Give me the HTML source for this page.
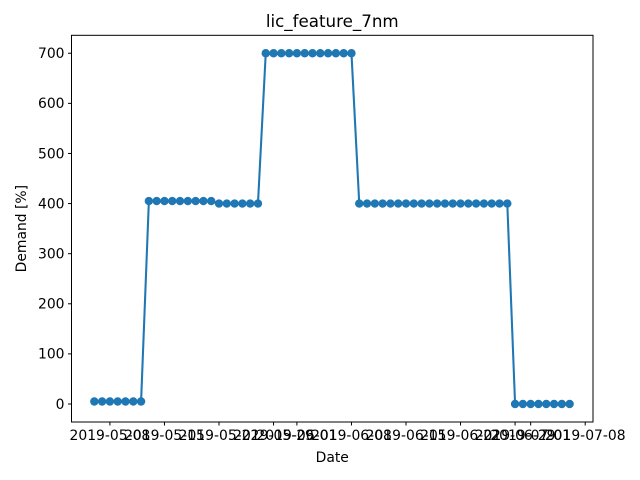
<!DOCTYPE html>
<html><head><meta charset="utf-8"><style>
html,body{margin:0;padding:0;background:#fff;}
svg{display:block;font-family:"DejaVu Sans","Liberation Sans",sans-serif;}
</style></head><body>
<svg id="chart" width="640" height="480" viewBox="0 0 640 480"></svg>
<script>
const dates = ["2019-05-06","2019-05-07","2019-05-08","2019-05-09","2019-05-10","2019-05-11","2019-05-12",
"2019-05-13","2019-05-14","2019-05-15","2019-05-16","2019-05-17","2019-05-18","2019-05-19","2019-05-20","2019-05-21",
"2019-05-22","2019-05-23","2019-05-24","2019-05-25","2019-05-26","2019-05-27",
"2019-05-28","2019-05-29","2019-05-30","2019-05-31","2019-06-01","2019-06-02","2019-06-03","2019-06-04","2019-06-05","2019-06-06","2019-06-07","2019-06-08",
"2019-06-09","2019-06-10","2019-06-11","2019-06-12","2019-06-13","2019-06-14","2019-06-15","2019-06-16","2019-06-17","2019-06-18",
"2019-06-19","2019-06-20","2019-06-21","2019-06-22","2019-06-23","2019-06-24","2019-06-25","2019-06-26","2019-06-27","2019-06-28",
"2019-06-29","2019-06-30","2019-07-01","2019-07-02","2019-07-03","2019-07-04","2019-07-05","2019-07-06"];
const demand = [5,5,5,5,5,5,5,
405,405,405,405,405,405,405,405,405,
400,400,400,400,400,400,
700,700,700,700,700,700,700,700,700,700,700,700,
400,400,400,400,400,400,400,400,400,400,
400,400,400,400,400,400,400,400,400,400,
0,0,0,0,0,0,0,0];
const xTicks = ["2019-05-08","2019-05-15","2019-05-22","2019-05-29","2019-06-01","2019-06-08","2019-06-15","2019-06-22","2019-06-29","2019-07-01","2019-07-08"];
const yTicks = [0,100,200,300,400,500,600,700];

const svg = document.getElementById('chart');
const NS = "http://www.w3.org/2000/svg";
const L=71.5, R=593, T=35.3, B=422;
const base = Date.UTC(2019,4,8);
function day(s){const p=s.split('-');return (Date.UTC(+p[0],+p[1]-1,+p[2])-base)/86400000;}
const xMin=-4.93, xMax=62.0, yMin=-35.9, yMax=735.8;
function X(s){return L+(day(s)-xMin)/(xMax-xMin)*(R-L);}
function Y(v){return B-(v-yMin)/(yMax-yMin)*(B-T);}
function el(tag, attrs, parent){const e=document.createElementNS(NS,tag);for(const k in attrs)e.setAttribute(k,attrs[k]);(parent||svg).appendChild(e);return e;}

const title = el('text',{x:(L+R)/2,y:27,'text-anchor':'middle','font-size':'16.7'});
title.textContent='lic_feature_7nm';



const yg = el('g',{});


yTicks.forEach(v=>{
  const y=Y(v);
  el('line',{x1:L-3.5,x2:L,y1:y,y2:y,stroke:'#000','stroke-width':1},yg);
  const t=el('text',{x:L-7,y:y+4.8,'text-anchor':'end','font-size':'13.9'},yg);
  t.textContent=v;
  
  
});
const xg = el('g',{});


xTicks.forEach(d=>{
  const x=X(d);
  el('line',{x1:x,x2:x,y1:B,y2:B+3.5,stroke:'#000','stroke-width':1},xg);
  const t=el('text',{x:x,y:B+18,'text-anchor':'middle','font-size':'13.9'},xg);
  t.textContent=d;
  
  
});
const xl=el('text',{x:(L+R)/2,y:462,'text-anchor':'middle','font-size':'13.9'});
xl.textContent='Date';


const yl=el('text',{x:0,y:0,'text-anchor':'middle','font-size':'13.9',transform:`translate(26,${(T+B)/2}) rotate(-90)`});
yl.textContent='Demand [%]';



const pts = dates.map((d,i)=>X(d).toFixed(2)+','+Y(demand[i]).toFixed(2)).join(' ');
const line=el('polyline',{points:pts,fill:'none',stroke:'#1f77b4','stroke-width':2.08,'stroke-linejoin':'round'});


dates.forEach((d,i)=>{
  const c=el('circle',{cx:X(d),cy:Y(demand[i]),r:4.2,fill:'#1f77b4'});
  
  
});
const frame=el('rect',{x:L,y:T,width:R-L,height:B-T,fill:'none',stroke:'#000','stroke-width':1});


</script>
</body></html>
